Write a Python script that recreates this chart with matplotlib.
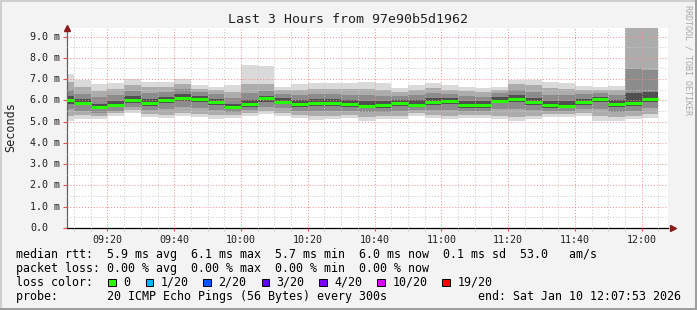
import numpy as np
import matplotlib
matplotlib.use("Agg")
import matplotlib.pyplot as plt
from matplotlib.patches import Rectangle
from matplotlib.ticker import MultipleLocator, FuncFormatter

W, H = 697, 310
MONO = "DejaVu Sans Mono"

# smoke data in ms, one column per 5 minute step (09:05-09:10 ... 12:00-12:05)
PING_MIN = [5.02, 5.13, 5.10, 5.26, 5.42, 5.21, 5.15, 5.26, 5.21, 5.13, 5.18, 5.26,
            5.34, 5.26, 5.18, 5.07, 5.13, 5.18, 5.02, 5.10, 5.13, 5.26, 5.18, 5.10,
            5.18, 5.18, 5.10, 5.02, 5.10, 5.23, 5.23, 5.26, 5.05, 5.02, 5.10, 5.18]
PING_P10 = [5.25, 5.30, 5.28, 5.40, 5.55, 5.36, 5.32, 5.42, 5.38, 5.30, 5.32, 5.40,
            5.50, 5.40, 5.32, 5.25, 5.28, 5.32, 5.20, 5.25, 5.28, 5.40, 5.32, 5.26,
            5.32, 5.32, 5.28, 5.22, 5.28, 5.36, 5.36, 5.40, 5.25, 5.20, 5.28, 5.35]
PING_P25 = [5.60, 5.52, 5.40, 5.52, 5.70, 5.55, 5.60, 5.70, 5.65, 5.55, 5.45, 5.55,
            5.70, 5.62, 5.50, 5.50, 5.50, 5.50, 5.45, 5.45, 5.50, 5.55, 5.55, 5.55,
            5.48, 5.48, 5.60, 5.60, 5.55, 5.50, 5.48, 5.58, 5.60, 5.45, 5.50, 5.65]
PING_P40 = [5.85, 5.76, 5.58, 5.68, 5.88, 5.75, 5.86, 5.95, 5.90, 5.80, 5.58, 5.70,
            5.92, 5.82, 5.70, 5.75, 5.74, 5.70, 5.63, 5.64, 5.74, 5.68, 5.80, 5.82,
            5.65, 5.65, 5.86, 5.90, 5.78, 5.66, 5.62, 5.78, 5.90, 5.70, 5.74, 5.90]
MEDIAN   = [6.01, 5.89, 5.68, 5.80, 6.01, 5.87, 6.00, 6.09, 6.05, 5.92, 5.68, 5.82,
            6.09, 5.94, 5.82, 5.89, 5.87, 5.82, 5.75, 5.76, 5.87, 5.80, 5.92, 5.95,
            5.77, 5.77, 5.99, 6.05, 5.91, 5.78, 5.73, 5.91, 6.04, 5.83, 5.87, 6.04]
PING_P60 = [6.20, 6.05, 5.85, 5.98, 6.20, 6.05, 6.18, 6.28, 6.20, 6.08, 5.85, 6.00,
            6.22, 6.10, 6.00, 6.05, 6.05, 6.00, 5.95, 5.95, 6.00, 6.00, 6.10, 6.10,
            5.95, 5.95, 6.15, 6.25, 6.12, 5.98, 5.95, 6.08, 6.18, 6.00, 6.35, 6.40]
PING_P75 = [6.50, 6.30, 6.15, 6.25, 6.45, 6.35, 6.40, 6.52, 6.40, 6.30, 6.10, 6.35,
            6.45, 6.30, 6.25, 6.30, 6.30, 6.25, 6.25, 6.20, 6.20, 6.25, 6.35, 6.30,
            6.20, 6.18, 6.35, 6.50, 6.40, 6.25, 6.25, 6.30, 6.35, 6.25, 7.45, 7.42]
PING_P90 = [6.85, 6.62, 6.45, 6.55, 6.70, 6.62, 6.62, 6.75, 6.55, 6.48, 6.40, 6.75,
            6.75, 6.50, 6.50, 6.55, 6.55, 6.55, 6.55, 6.50, 6.40, 6.50, 6.58, 6.50,
            6.45, 6.40, 6.50, 6.75, 6.70, 6.60, 6.55, 6.50, 6.50, 6.48, 11.5, 10.8]
PING_MAX = [7.23, 6.96, 6.75, 6.80, 6.99, 6.87, 6.87, 6.99, 6.71, 6.65, 6.71, 7.67,
            7.62, 6.65, 6.75, 6.83, 6.83, 6.80, 6.87, 6.80, 6.60, 6.71, 6.80, 6.71,
            6.65, 6.60, 6.65, 6.94, 6.97, 6.85, 6.80, 6.66, 6.61, 6.66, 14.0, 12.5]

Y_TICKS = [0, 1, 2, 3, 4, 5, 6, 7, 8, 9]
Y_LABELS = ["0.0", "1.0 m", "2.0 m", "3.0 m", "4.0 m", "5.0 m", "6.0 m", "7.0 m", "8.0 m", "9.0 m"]

LOSS_LABELS = ["0", "1/20", "2/20", "3/20", "4/20", "10/20", "19/20"]
LOSS_COLORS = ["#26ff00", "#00b8ff", "#0059ff", "#5e00ff", "#7e00ff", "#dd00ff", "#ff0000"]

LEGEND_LINES = [
    "median rtt:  5.9 ms avg  6.1 ms max  5.7 ms min  6.0 ms now  0.1 ms sd  53.0   am/s",
    "packet loss: 0.00 % avg  0.00 % max  0.00 % min  0.00 % now",
    "loss color:",
    "probe:       20 ICMP Echo Pings (56 Bytes) every 300s",
]
END_TEXT = "end: Sat Jan 10 12:07:53 2026"
TITLE = "Last 3 Hours from 97e90b5d1962"

T_START = 9 * 60 + 7 + 53 / 60      # minutes after midnight
T_END = T_START + 180
bar_start = 9 * 60 + 5 + 5 * np.arange(len(MEDIAN))


def fx(x):
    return x / W


def fy(y):
    return 1 - y / H


fig = plt.figure(figsize=(W / 100, H / 100), dpi=100, facecolor="#f3f3f3")
ax = fig.add_axes([fx(67), fy(228), fx(668) - fx(67), fy(28) - fy(228)])
ax.set_facecolor("white")

# smoke: nested bands, darker towards the median
bands = [(PING_MIN, PING_MAX, "#dadada"), (PING_P10, PING_P90, "#acacac"),
         (PING_P25, PING_P75, "#8c8c8c"), (PING_P40, PING_P60, "#505050")]
for lo, hi, c in bands:
    lo = np.array(lo); hi = np.array(hi)
    ax.bar(bar_start, hi - lo, width=5, bottom=lo, align="edge", color=c,
           linewidth=0, zorder=1)
ax.hlines(MEDIAN, bar_start, bar_start + 5, colors="#26ff00", linewidth=2.2, zorder=4)

ax.set_xlim(T_START, T_END)
ax.set_ylim(0, 9.4)
ax.xaxis.set_major_locator(MultipleLocator(20))
ax.xaxis.set_minor_locator(MultipleLocator(5))
ax.yaxis.set_major_locator(MultipleLocator(1))
ax.yaxis.set_minor_locator(MultipleLocator(0.5))
ax.xaxis.set_major_formatter(FuncFormatter(lambda v, p: f"{int(v // 60):02d}:{int(v % 60):02d}"))
ax.grid(which="minor", color="#c8c8c8", linestyle=(0, (1, 2)), linewidth=0.7, zorder=2)
ax.grid(which="major", color="#f08a8a", linestyle=(0, (1, 2)), linewidth=0.7, zorder=3)
ax.set_axisbelow(False)

for s in ["top", "right"]:
    ax.spines[s].set_visible(False)
ax.spines["left"].set_color("#606060")
ax.spines["bottom"].set_color("black")
ax.spines["left"].set_linewidth(0.9)
ax.spines["bottom"].set_linewidth(0.9)

ax.tick_params(axis="x", which="major", length=2, color="#e05050", labelsize=7.2,
               pad=3, labelcolor="#202020")
ax.tick_params(axis="x", which="minor", length=2, color="#c8c8c8")
for lab in ax.get_xticklabels():
    lab.set_family(MONO)
ax.tick_params(axis="y", which="major", length=3, color="#e05050", labelleft=False)
ax.tick_params(axis="y", which="minor", length=0)
for v, lab in zip(Y_TICKS, Y_LABELS):
    ax.text(-37 / 601, v, lab, transform=ax.get_yaxis_transform(), ha="left",
            va="center", fontsize=7.2, family=MONO, color="#202020")

# arrows at the ends of the axes
ax.plot([T_START], [9.4], marker="^", color="#8b1a1a", markersize=5, clip_on=False, zorder=5)
ax.plot([T_END + 1.6], [0], marker=">", color="#8b1a1a", markersize=5, clip_on=False, zorder=5)

fig.text(fx(10.5), fy(127.5), "Seconds", rotation=90, ha="center", va="center",
         fontsize=8.5, family=MONO, color="#202020")
fig.text(fx(348), fy(19.5), TITLE, ha="center", va="center", fontsize=9.5,
         family=MONO, color="#202020")
fig.text(fx(688), fy(5), "RRDTOOL / TOBI OETIKER", rotation=-90, ha="center", va="top",
         fontsize=6, family=MONO, color="#a8a8a8")

baselines = [258, 271.8, 285.7, 299.6]
for line, yb in zip(LEGEND_LINES, baselines):
    fig.text(fx(16), fy(yb), line, ha="left", va="baseline", fontsize=8.35,
             family=MONO, color="black")
fig.text(fx(681), fy(baselines[3]), END_TEXT, ha="right", va="baseline", fontsize=8.35,
         family=MONO, color="black")

swatch_x = [108.3, 145.7, 203.3, 261.7, 319.3, 377.3, 442.3]
for x, lab, c in zip(swatch_x, LOSS_LABELS, LOSS_COLORS):
    fig.patches.append(Rectangle((fx(x), fy(286.3)), fx(7.3), fy(0) - fy(7.3),
                                 transform=fig.transFigure, facecolor=c,
                                 edgecolor="black", linewidth=0.7))
    fig.text(fx(x + 15), fy(baselines[2]), lab, ha="left", va="baseline",
             fontsize=8.35, family=MONO, color="black")

# 3d frame around the image
frame = [((0, 0), W, 2, "#cfcfcf"), ((0, 0), 2, H, "#cfcfcf"),
         ((0, H - 2), W, 2, "#9e9e9e"), ((W - 2, 0), 2, H, "#9e9e9e")]
for (x, y), w, h, c in frame:
    fig.patches.append(Rectangle((fx(x), fy(y + h)), fx(w), fy(0) - fy(h),
                                 transform=fig.transFigure, facecolor=c, linewidth=0))

fig.savefig("out.png", dpi=100, facecolor=fig.get_facecolor())
